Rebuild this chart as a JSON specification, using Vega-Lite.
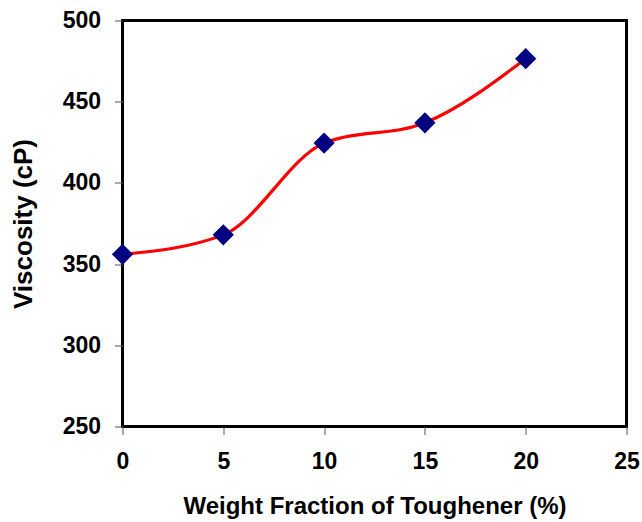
{
  "$schema": "https://vega.github.io/schema/vega-lite/v6.json",
  "width": 504,
  "height": 406,
  "autosize": {"type": "none"},
  "padding": {"left": 122.5, "top": 20.5, "right": 15.5, "bottom": 95.5},
  "background": "white",
  "config": {
    "view": {"stroke": "black", "strokeWidth": 3},
    "font": "Liberation Sans",
    "axis": {
      "domain": false,
      "grid": false,
      "tickColor": "#555555",
      "tickSize": 8,
      "tickWidth": 1,
      "labelFont": "Liberation Sans",
      "labelFontSize": 23,
      "labelFontWeight": "bold",
      "labelColor": "black",
      "labelFlush": false,
      "labelOverlap": false,
      "titleFont": "Liberation Sans",
      "titleFontSize": 24,
      "titleFontWeight": "bold",
      "titleColor": "black"
    }
  },
  "data": {
    "values": [
      {"fraction": 0, "viscosity": 356},
      {"fraction": 5, "viscosity": 368},
      {"fraction": 10, "viscosity": 424.5},
      {"fraction": 15, "viscosity": 437},
      {"fraction": 20, "viscosity": 476.5}
    ]
  },
  "encoding": {
    "x": {
      "field": "fraction",
      "type": "quantitative",
      "scale": {"domain": [0, 25], "nice": false},
      "axis": {"values": [0, 5, 10, 15, 20, 25], "title": "Weight Fraction of Toughener (%)", "labelPadding": 16, "titlePadding": 21}
    },
    "y": {
      "field": "viscosity",
      "type": "quantitative",
      "scale": {"domain": [250, 500], "nice": false, "zero": false},
      "axis": {"values": [250, 300, 350, 400, 450, 500], "title": "Viscosity (cP)", "titleFontSize": 26, "labelPadding": 14, "titlePadding": 26}
    }
  },
  "layer": [
    {"mark": {"type": "line", "color": "#ff0000", "strokeWidth": 3.2, "interpolate": "monotone"}},
    {"mark": {"type": "point", "shape": "diamond", "filled": true, "color": "#000080", "opacity": 1, "size": 450}}
  ]
}
